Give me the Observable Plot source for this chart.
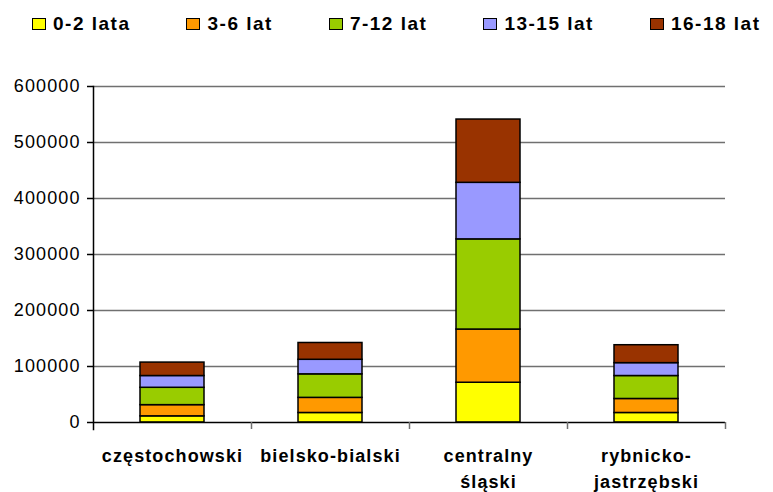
<!DOCTYPE html>
<html>
<head>
<meta charset="utf-8">
<script src="https://cdn.jsdelivr.net/npm/d3@7"></script>
<script src="https://cdn.jsdelivr.net/npm/@observablehq/plot@0.6"></script>
<style>
  html, body { margin: 0; padding: 0; background: white; }
  #wrap { width: 773px; font-family: "Liberation Sans", Arial, sans-serif; }
  #legend { display: flex; align-items: center; height: 48px; padding-left: 32px; gap: 56px;
            font-weight: bold; font-size: 19px; letter-spacing: 1.5px; color: black; }
  #legend .item { display: flex; align-items: center; white-space: nowrap; }
  #legend .sw { width: 14px; height: 12px; box-sizing: border-box; border: 1.5px solid #000; margin-right: 7px; }
  svg g[aria-label="y-axis tick label"] { letter-spacing: 1.1px; }
  svg g[aria-label="x-axis tick label"] { letter-spacing: 1.1px; }
</style>
</head>
<body>
<div id="wrap">
  <div id="legend"></div>
  <div id="chart"></div>
</div>
<script>
// ---- data ----
const categories = ["częstochowski", "bielsko-bialski", "centralny\nśląski", "rybnicko-\njastrzębski"];
const seriesNames = ["0-2 lata", "3-6 lat", "7-12 lat", "13-15 lat", "16-18 lat"];
const seriesColors = ["#FFFF00", "#FF9900", "#99CC00", "#9999FF", "#993300"];
const age0_2   = [11000, 17000, 71000, 17000];
const age3_6   = [20000, 27000, 95000, 25000];
const age7_12  = [31000, 42000, 161000, 41000];
const age13_15 = [21000, 26000, 101000, 23000];
const age16_18 = [24000, 30000, 113000, 32000];
const yTicks = [0, 100000, 200000, 300000, 400000, 500000, 600000];

const seriesValues = [age0_2, age3_6, age7_12, age13_15, age16_18];
const table = [];
categories.forEach((c, i) => {
  seriesNames.forEach((s, j) => table.push({cat: c, series: s, value: seriesValues[j][i]}));
});

// ---- legend ----
const legend = document.getElementById("legend");
seriesNames.forEach((s, j) => {
  const it = document.createElement("div");
  it.className = "item";
  const sw = document.createElement("div");
  sw.className = "sw";
  sw.style.background = seriesColors[j];
  const tx = document.createElement("span");
  tx.textContent = s;
  it.appendChild(sw); it.appendChild(tx);
  legend.appendChild(it);
});

// ---- chart ----
const W = 773, mL = 93, mR = 48;
const step = (W - mL - mR) / categories.length;

const chart = Plot.plot({
  width: W, height: 444,
  marginLeft: mL, marginRight: mR, marginTop: 38, marginBottom: 70,
  style: {fontFamily: "'Liberation Sans', Arial, sans-serif", background: "white", color: "black"},
  x: {domain: categories, paddingInner: 0.595, paddingOuter: 0.2975, label: null},
  y: {domain: [0, 600000], label: null},
  color: {domain: seriesNames, range: seriesColors},
  marks: [
    Plot.ruleY(yTicks.filter(d => d > 0), {stroke: "#707070", strokeWidth: 1.5}),
    Plot.barY(table, {x: "cat", y: "value", fill: "series", stroke: "black", strokeWidth: 1.5}),
    Plot.ruleY([0], {stroke: "black", strokeWidth: 1.5}),
    Plot.frame({anchor: "left", insetBottom: -7, stroke: "black", strokeWidth: 1.5}),
    Plot.axisY({ticks: yTicks, tickSize: 6, tickPadding: 7, tickFormat: d => String(d), fontSize: 18, strokeWidth: 1.5, label: null}),
    Plot.axisX({tickSize: 7, tickFormat: () => "", dx: step / 2, strokeWidth: 1.5, stroke: "#707070", label: null}),
    Plot.axisX({tickSize: 0, tickPadding: 21, fontSize: 18, fontWeight: "bold", lineHeight: 26 / 18, label: null})
  ]
});
document.getElementById("chart").appendChild(chart);
</script>
</body>
</html>
